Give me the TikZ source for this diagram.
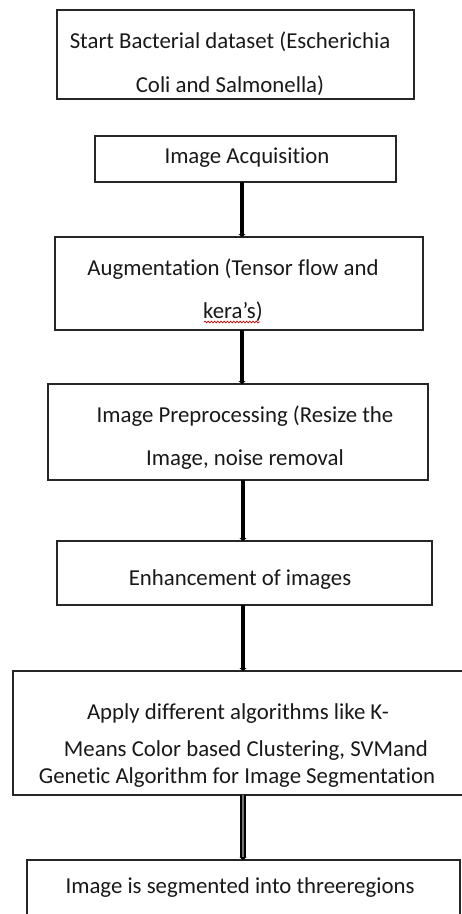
\documentclass[tikz,border=0pt]{standalone}
\usepackage{fontspec}
\setmainfont{Carlito}[Ligatures=CommonOff]
\usetikzlibrary{arrows.meta,decorations.pathmorphing}

\tikzset{
  box/.style={draw=black!85, line width=1.3pt, inner sep=0pt, outer sep=0pt, fill=none},
  txt/.style={anchor=base, inner sep=0pt, text=black!90, font=\fontsize{22.8}{26}\selectfont},
  flow/.style={draw=black, line width=3.6pt, -{Triangle[length=3pt,width=7pt]}},
  dflow/.style={draw=black, line width=1.9pt, double=black!55, double distance=1.3pt, -{Triangle[length=3pt,width=7pt]}},
}

\begin{document}
\begin{tikzpicture}[x=1pt,y=-1pt]
\useasboundingbox (0,0) rectangle (462,914);
\clip (0,0) rectangle (462,914);
\fill[white] (0,0) rectangle (462,914);

% process boxes (centre, width, height)
\node[box, minimum width=357pt, minimum height=89pt]  (b1) at (235.5,54.5) {};
\node[box, minimum width=301pt, minimum height=46pt]  (b2) at (245.5,159)  {};
\node[box, minimum width=368pt, minimum height=93pt]  (b3) at (239,283.5)  {};
\node[box, minimum width=380pt, minimum height=96pt]  (b4) at (238,432)    {};
\node[box, minimum width=375pt, minimum height=64pt]  (b5) at (244.5,573)  {};
\node[box, minimum width=462pt, minimum height=124pt] (b6) at (244,733)    {};
\node[box, minimum width=433pt, minimum height=80pt]  (b7) at (243.5,900)  {};

% box texts
\node[txt] (t1a) at (230,48)  {Start Bacterial dataset (Escherichia};
\node[txt] (t1b) at (230,92)  {Coli and Salmonella)};
\node[txt] (t2)  at (247,163) {Image Acquisition};
\node[txt] (t3a) at (233,275) {Augmentation (Tensor flow and};
\node[txt] (t3b) at (233,318) {kera’s)};
\node[txt] (t4a) at (245,422) {Image Preprocessing (Resize the};
\node[txt] (t4b) at (245,465) {Image, noise removal};
\node[txt] (t5)  at (240,585) {Enhancement of images};
\node[txt] (t6a) at (238,719) {Apply different algorithms like K-};
\node[txt] (t6b) at (246,756) {Means Color based Clustering, SVMand};
\node[txt] (t6c) at (237,783) {Genetic Algorithm for Image Segmentation};
\node[txt] (t7)  at (240,893) {Image is segmented into threeregions};

% spell-check squiggle under kera's
\draw[red!80!black, line width=0.7pt, decorate,
      decoration={snake, amplitude=0.9pt, segment length=3.2pt}]
  (t3b.base west) ++(1,4) -- ++(56,0);

% arrow columns
\coordinate (xa) at (242,0);
\coordinate (xb) at (243,0);

% connectors
\draw[flow]  (b2.south -| xa) -- (b3.north -| xa);
\draw[flow]  (b3.south -| xa) -- (b4.north -| xa);
\draw[flow]  (b4.south -| xb) -- (b5.north -| xb);
\draw[flow]  (b5.south -| xb) -- (b6.north -| xb);
\draw[dflow] (b6.south -| xb) -- (b7.north -| xb);
\end{tikzpicture}
\end{document}
